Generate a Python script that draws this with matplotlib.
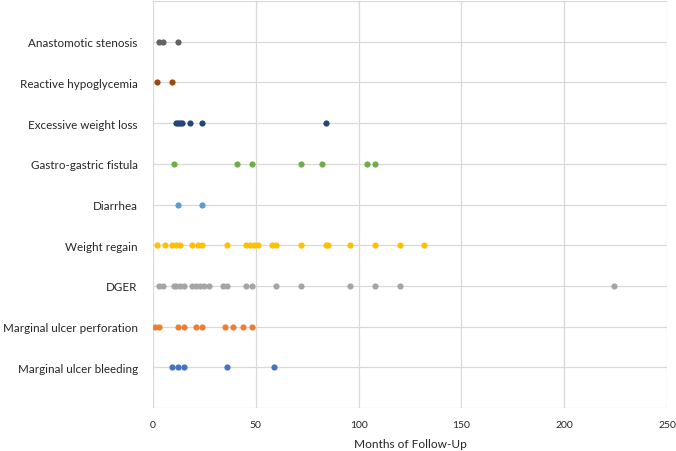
import numpy as np
import matplotlib
matplotlib.use("Agg")
import matplotlib.pyplot as plt

# complication categories, bottom to top
categories = ["Marginal ulcer bleeding", "Marginal ulcer perforation", "DGER",
              "Weight regain", "Diarrhea", "Gastro-gastric fistula",
              "Excessive weight loss", "Reactive hypoglycemia", "Anastomotic stenosis"]

# months of follow-up per event
bleeding = [9, 12, 15, 36, 59]
perforation = [1, 3, 12, 15, 21, 24, 35, 39, 44, 48]
dger = [3, 5, 10, 11, 13, 15, 19, 21, 23, 25, 27, 34, 36, 45, 48, 60, 72, 96, 108, 120, 224]
weight_regain = [2, 6, 9, 11, 13, 19, 22, 24, 36, 45, 47, 49, 51, 58, 60, 72, 84, 85, 96, 108, 120, 132]
diarrhea = [12, 24]
gg_fistula = [10, 41, 48, 72, 82, 104, 108]
excess_loss = [11, 12, 13, 14, 18, 24, 84]
hypoglycemia = [2, 9]
stenosis = [3, 5, 12]

series = [bleeding, perforation, dger, weight_regain, diarrhea,
          gg_fistula, excess_loss, hypoglycemia, stenosis]
colors = ["#4472C4", "#ED7D31", "#A5A5A5", "#FFC000", "#5B9BD5",
          "#70AD47", "#264478", "#9E480E", "#636363"]

plt.rcParams['font.family'] = ['Lato', 'DejaVu Sans']

fig = plt.figure(figsize=(6.76, 4.52), dpi=100)
ax = fig.add_axes([153 / 676, 43 / 452, 514 / 676, 407 / 452])

for i, (vals, c) in enumerate(zip(series, colors)):
    ax.scatter(vals, np.full(len(vals), i + 1), s=20, color=c, zorder=3, linewidths=0)

ax.set_xlim(0, 250)
ax.set_ylim(0, 10)
ax.set_xticks([0, 50, 100, 150, 200, 250])
ax.set_yticks(range(0, 11))
ax.set_yticklabels([""] + categories + [""])
ax.grid(True, color="#D9D9D9", linewidth=0.9, zorder=0)
for s in ax.spines.values():
    s.set_visible(False)
ax.tick_params(axis="both", length=0)
ax.tick_params(axis="y", pad=11, labelsize=8.4, labelcolor="#262626")
ax.tick_params(axis="x", pad=9, labelsize=7.5, labelcolor="#262626")
ax.set_xlabel("Months of Follow-Up", fontsize=8.6, color="#262626", labelpad=6)

fig.savefig("out.png", dpi=100, facecolor="white")
